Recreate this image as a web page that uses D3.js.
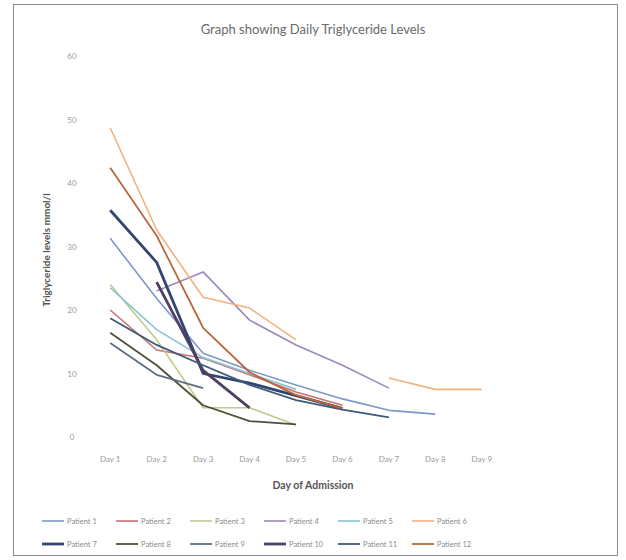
<!DOCTYPE html>
<html>
<head>
<meta charset="utf-8">
<script src="https://cdn.jsdelivr.net/npm/d3@7"></script>
<style>
  body { margin: 0; background: #fff; }
  text { font-family: Lato, "Open Sans", sans-serif; }
</style>
</head>
<body>
<main></main>
<script>
// データ
const days = ["Day 1", "Day 2", "Day 3", "Day 4", "Day 5", "Day 6", "Day 7", "Day 8", "Day 9"];
const yTicks = [0, 10, 20, 30, 40, 50, 60];
const patients = ["Patient 1", "Patient 2", "Patient 3", "Patient 4", "Patient 5", "Patient 6",
                  "Patient 7", "Patient 8", "Patient 9", "Patient 10", "Patient 11", "Patient 12"];
const p1  = [31.3, 21.8, 13.2, 10.5, 8.2, 6.0, 4.2, 3.6];
const p2  = [20.0, 13.7, 12.4, 9.8, 7.1, 5.0];
const p3  = [24.0, 15.3, 4.6, 4.6, 1.9];
const p4  = [null, 23.0, 26.0, 18.4, 14.5, 11.3, 7.7];
const p5  = [23.5, 16.9, 12.5, 10.0, 7.5];
const p6  = [48.7, 32.6, 22.0, 20.3, 15.3, null, 9.3, 7.5, 7.5];
const p7  = [35.7, 27.5, 10.0, 8.5, 6.5, 4.5];
const p8  = [16.4, 11.3, 5.0, 2.5, 2.0];
const p9  = [14.8, 9.8, 7.7];
const p10 = [null, 24.4, 10.5, 4.6];
const p11 = [18.7, 14.5, 11.3, 8.2, 5.8, 4.3, 3.1];
const p12 = [42.4, 31.7, 17.2, 10.2, 6.6, 4.5];
const series = [p1, p2, p3, p4, p5, p6, p7, p8, p9, p10, p11, p12];
const colors = ["#7f96c9", "#c9716e", "#bccb8e", "#9c88ba", "#86c3d6", "#f3b17f",
                "#33466e", "#4c5238", "#5d6f80", "#4f3f64", "#3d5a78", "#b8683c"];
const widths = [1.6, 1.6, 1.6, 1.6, 1.6, 1.6, 2.8, 1.8, 1.8, 2.8, 1.8, 1.8];

const width = 626, height = 560;
const svg = d3.select("main").append("svg")
    .attr("width", width)
    .attr("height", height);

// 外枠
svg.append("rect")
    .attr("x", 13.5).attr("y", 4.5)
    .attr("width", 604).attr("height", 551)
    .attr("fill", "#fff")
    .attr("stroke", "#8a8a8a");

// スケール
const x = d3.scaleBand().domain(days).range([87, 505]);
const y = d3.scaleLinear().domain([0, 60]).range([437, 56]);

// タイトル
svg.append("text")
    .attr("x", 313).attr("y", 34)
    .attr("text-anchor", "middle")
    .attr("font-size", 13)
    .attr("fill", "#6a6a6a")
    .text("Graph showing Daily Triglyceride Levels");

// Y軸
const yAxis = svg.append("g")
    .attr("transform", "translate(80,0)")
    .call(d3.axisLeft(y).tickValues(yTicks).tickSize(0).tickPadding(4));
yAxis.select(".domain").remove();
yAxis.selectAll("text").attr("font-size", 8).attr("fill", "#9a9a9a")
    .attr("text-anchor", "middle").attr("dx", 0).attr("x", -8);

// X軸
const xAxis = svg.append("g")
    .attr("transform", "translate(0,452)")
    .call(d3.axisBottom(x).tickSize(0).tickPadding(4));
xAxis.select(".domain").remove();
xAxis.selectAll("text").attr("font-size", 8).attr("fill", "#9a9a9a");

// 軸タイトル
svg.append("text")
    .attr("transform", "translate(50,250) rotate(-90)")
    .attr("text-anchor", "middle")
    .attr("font-size", 10)
    .attr("font-weight", "bold")
    .attr("fill", "#555")
    .text("Triglyceride levels mmol/l");

svg.append("text")
    .attr("x", 313).attr("y", 489)
    .attr("text-anchor", "middle")
    .attr("font-size", 10.5)
    .attr("font-weight", "bold")
    .attr("fill", "#555")
    .text("Day of Admission");

// 折れ線
const line = d3.line()
    .defined(d => d.v != null)
    .x(d => x(d.day) + x.bandwidth() / 2)
    .y(d => y(d.v));

svg.append("g")
    .selectAll("path")
    .data(series.map((s, i) => ({ i, pts: s.map((v, j) => ({ day: days[j], v })) })))
    .enter().append("path")
    .attr("fill", "none")
    .attr("stroke", d => colors[d.i])
    .attr("stroke-width", d => widths[d.i])
    .attr("stroke-linejoin", "round")
    .attr("d", d => line(d.pts));

// 凡例
const legend = svg.append("g")
    .selectAll("g")
    .data(patients)
    .enter().append("g")
    .attr("transform", (d, i) => `translate(${42 + (i % 6) * 74},${i < 6 ? 521 : 544})`);

legend.append("line")
    .attr("x1", 0).attr("x2", 22)
    .attr("stroke", (d, i) => colors[i])
    .attr("stroke-width", (d, i) => widths[i]);

legend.append("text")
    .attr("x", 25).attr("y", 3)
    .attr("font-size", 7.5)
    .attr("fill", "#8a8a8a")
    .text(d => d);
</script>
</body>
</html>
